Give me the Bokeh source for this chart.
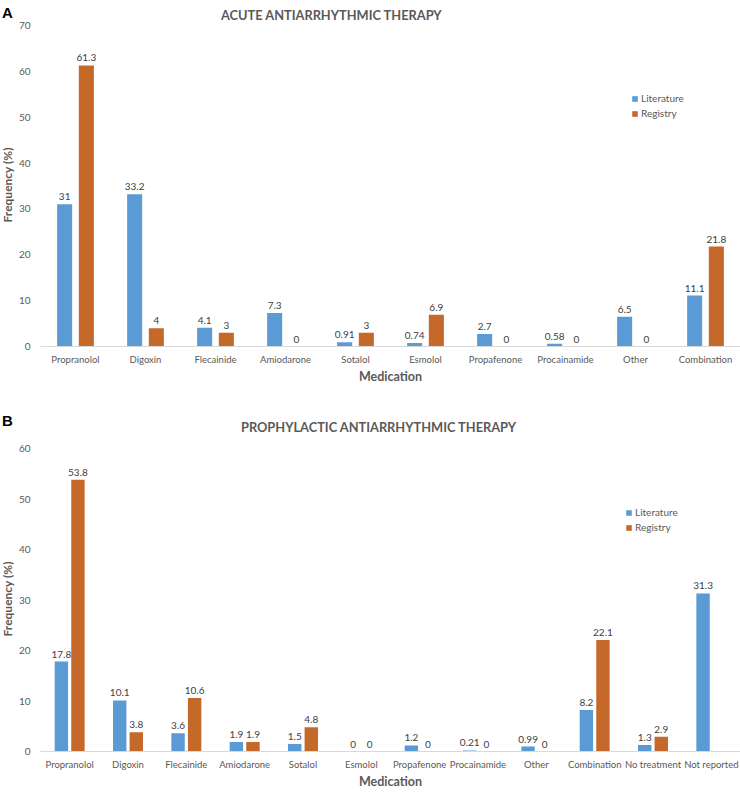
from bokeh.plotting import figure
from bokeh.models import (FactorRange, Range1d, FixedTicker, Legend, LegendItem,
                          ColumnDataSource, Div, GridBox)
from bokeh.transform import dodge
from bokeh.core.properties import value
from bokeh.embed import file_html
from bokeh.resources import INLINE

# ---------------- data ----------------
cats_a = ["Propranolol", "Digoxin", "Flecainide", "Amiodarone", "Sotalol", "Esmolol",
          "Propafenone", "Procainamide", "Other", "Combination"]
lit_a = [31, 33.2, 4.1, 7.3, 0.91, 0.74, 2.7, 0.58, 6.5, 11.1]
reg_a = [61.3, 4, 3, 0, 3, 6.9, 0, 0, 0, 21.8]

cats_b = ["Propranolol", "Digoxin", "Flecainide", "Amiodarone", "Sotalol", "Esmolol",
          "Propafenone", "Procainamide", "Other", "Combination", "No treatment", "Not reported"]
lit_b = [17.8, 10.1, 3.6, 1.9, 1.5, 0, 1.2, 0.21, 0.99, 8.2, 1.3, 31.3]
reg_b = [53.8, 3.8, 10.6, 1.9, 4.8, 0, 0, 0, 0, 22.1, 2.9, None]

title_a = "ACUTE ANTIARRHYTHMIC THERAPY"
title_b = "PROPHYLACTIC ANTIARRHYTHMIC THERAPY"
series_names = ["Literature", "Registry"]
y_label = "Frequency (%)"
x_label = "Medication"

# ---------------- style ----------------
FONT = "Lato"
BLUE = "#5B9BD5"
ORANGE = "#C5692B"
GRAY = "#595959"
LBL = "#404040"
W = 740
LEFT = 40
H = 396


def fmt(v):
    return f"{v:g}"


def panel(cats, lit, reg, ymax, top, frame_h, off, barw, legend_xy):
    p = figure(x_range=FactorRange(*cats), y_range=Range1d(0, ymax),
               width=W, height=H, output_backend="svg", toolbar_location=None,
               min_border_top=top, min_border_left=LEFT, min_border_right=0,
               min_border_bottom=H - top - frame_h)
    p.outline_line_color = None
    p.xgrid.grid_line_color = None
    p.ygrid.grid_line_color = None

    lsrc = ColumnDataSource(dict(cat=cats, v=lit, t=[fmt(v) for v in lit]))
    rc = [c for c, v in zip(cats, reg) if v is not None]
    rv = [v for v in reg if v is not None]
    rsrc = ColumnDataSource(dict(cat=rc, v=rv, t=[fmt(v) for v in rv]))

    r1 = p.vbar(x=dodge("cat", -off, range=p.x_range), top="v", width=barw, source=lsrc,
                fill_color=BLUE, line_color=None)
    r2 = p.vbar(x=dodge("cat", off, range=p.x_range), top="v", width=barw, source=rsrc,
                fill_color=ORANGE, line_color=None)
    for src, o in ((lsrc, -off), (rsrc, off)):
        p.text(x=dodge("cat", o, range=p.x_range), y="v", text="t", source=src,
               text_align="center", text_baseline="bottom", y_offset=-4,
               text_font=value(FONT), text_font_size="10px", text_color=LBL)

    xa = p.xaxis[0]
    xa.axis_line_color = "#D9D9D9"
    xa.major_tick_line_color = None
    xa.minor_tick_line_color = None
    xa.major_tick_out = 0
    xa.major_tick_in = 0
    xa.major_label_text_font = FONT
    xa.major_label_text_font_size = "9.5px"
    xa.major_label_text_color = GRAY
    xa.major_label_standoff = 7
    xa.axis_label = x_label
    xa.axis_label_text_font = FONT
    xa.axis_label_text_font_size = "12.5px"
    xa.axis_label_text_font_style = "bold"
    xa.axis_label_text_color = GRAY
    xa.axis_label_standoff = 1

    ya = p.yaxis[0]
    ya.ticker = FixedTicker(ticks=list(range(0, ymax + 1, 10)))
    ya.axis_line_color = None
    ya.major_tick_line_color = None
    ya.minor_tick_line_color = None
    ya.major_tick_out = 0
    ya.major_tick_in = 0
    ya.major_label_text_font = FONT
    ya.major_label_text_font_size = "10px"
    ya.major_label_text_color = GRAY
    ya.major_label_standoff = 10

    leg = Legend(items=[LegendItem(label=series_names[0], renderers=[r1]),
                        LegendItem(label=series_names[1], renderers=[r2])],
                 location=legend_xy, border_line_color=None, background_fill_alpha=0,
                 glyph_width=7, glyph_height=7, label_text_font=FONT,
                 label_text_font_size="10px", label_text_color=GRAY, label_height=14,
                 spacing=1, padding=0, margin=0, label_standoff=3)
    p.add_layout(leg)
    return p


def overlay(letter, letter_top, title, title_left, title_top, label_cy):
    html = (
        f'<div style="position:relative;width:{W - 10}px;height:{H - 10}px;">'
        f'<div style="position:absolute;left:-3px;top:{letter_top}px;font-family:\'Liberation Sans\';'
        f'font-weight:bold;font-size:15px;line-height:15px;color:#000">{letter}</div>'
        f'<div style="position:absolute;left:{title_left}px;top:{title_top}px;white-space:nowrap;'
        f'font-family:{FONT};font-weight:bold;font-size:12.8px;line-height:15px;color:{GRAY}">{title}</div>'
        f'<div style="position:absolute;left:3px;top:{label_cy}px;transform:translate(-50%,-50%) rotate(-90deg);'
        f'white-space:nowrap;font-family:{FONT};font-weight:bold;font-size:12px;line-height:14px;'
        f'color:{GRAY}">{y_label}</div>'
        f'</div>')
    return Div(text=html, width=W - 10, height=H - 10)


pa = panel(cats_a, lit_a, reg_a, 70, top=25, frame_h=321,
           off=0.155, barw=0.215, legend_xy=(591, 226))
pb = panel(cats_b, lit_b, reg_b, 60, top=52, frame_h=303,
           off=0.142, barw=0.23, legend_xy=(585, 217))

layout = GridBox(children=[(pa, 0, 0), (overlay("A", 0, title_a, 216, 3, 180), 0, 0),
                           (pb, 1, 0), (overlay("B", 12, title_b, 236, 19, 198), 1, 0)],
                 spacing=0)
open("out.html", "w").write(file_html(layout, INLINE))
